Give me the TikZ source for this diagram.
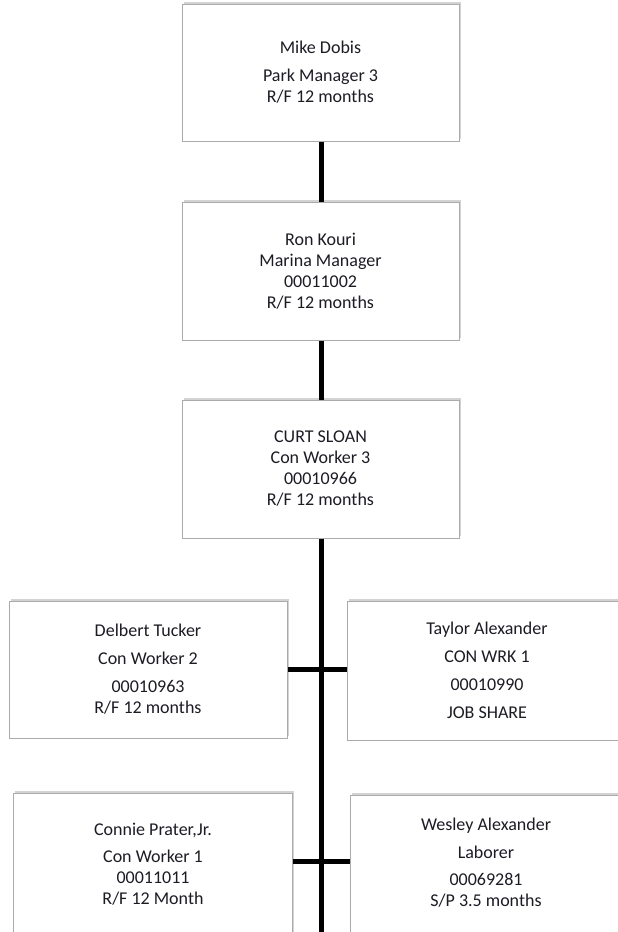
\documentclass[tikz,border=0pt]{standalone}
\usepackage{fontspec}
\setmainfont{Carlito}
\usetikzlibrary{shadows}
\definecolor{boxline}{HTML}{ABABAB}
\definecolor{txt}{HTML}{1C1C24}
\tikzset{
  card/.style={draw=boxline, line width=1pt, fill=white, rectangle,
    inner sep=0pt, align=center, text=txt,
    font=\fontsize{18}{21}\selectfont,
    drop shadow={shadow xshift=1.5pt, shadow yshift=2.5pt, opacity=0.35, fill=gray}},
  cardtext/.style={text=txt, align=center, font=\fontsize{18}{21}\selectfont},
  link/.style={line width=5pt, black}
}
\begin{document}
\begin{tikzpicture}[x=1pt,y=-1pt]
\useasboundingbox (0,0) rectangle (618,932);
\clip (0,0) rectangle (618,932);
\node[card, minimum width=277pt, minimum height=137pt] (mike) at (320.5,72.5)
  {Mike Dobis\\[7pt]Park Manager 3\\R/F 12 months};
\node[card, minimum width=277pt, minimum height=138pt] (ron) at (320.5,271)
  {Ron Kouri\\Marina Manager\\00011002\\R/F 12 months};
\node[card, minimum width=277pt, minimum height=138pt] (curt) at (320.5,469)
  {CURT SLOAN\\Con Worker 3\\00010966\\R/F 12 months};
\node[card, minimum width=278pt, minimum height=137pt] (delbert) at (148,669.5)
  {Delbert Tucker\\[7pt]Con Worker 2\\[7pt]00010963\\R/F 12 months};
\node[card, minimum width=280pt, minimum height=139pt] (taylor) at (487,670.5)
  {Taylor Alexander\\[7pt]CON WRK 1\\[7pt]00010990\\[7pt]JOB SHARE};
\node[card, minimum width=279pt, minimum height=150pt, anchor=north west] (connie) at (13,793)
  {};
\node[cardtext] (conniet) at (153,864)
  {Connie Prater,Jr.\\[6pt]Con Worker 1\\00011011\\R/F 12 Month};
\node[card, minimum width=280pt, minimum height=150pt, anchor=north west] (wesley) at (350,795)
  {};
\node[cardtext] (wesleyt) at (486,863)
  {Wesley Alexander\\[7pt]Laborer\\[6pt]00069281\\S/P 3.5 months};
\coordinate (bottom) at (321.5,940);
\coordinate (j1) at (321.5,669.5);
\coordinate (j2) at (321.5,861);
\draw[link] (mike.south -| j1) -- (ron.north -| j1);
\draw[link] (ron.south -| j1) -- (curt.north -| j1);
\draw[link] (curt.south -| j1) -- (bottom);
\draw[link] (delbert.east |- j1) -- (taylor.west |- j1);
\draw[link] (connie.east |- j2) -- (wesley.west |- j2);
\end{tikzpicture}
\end{document}
